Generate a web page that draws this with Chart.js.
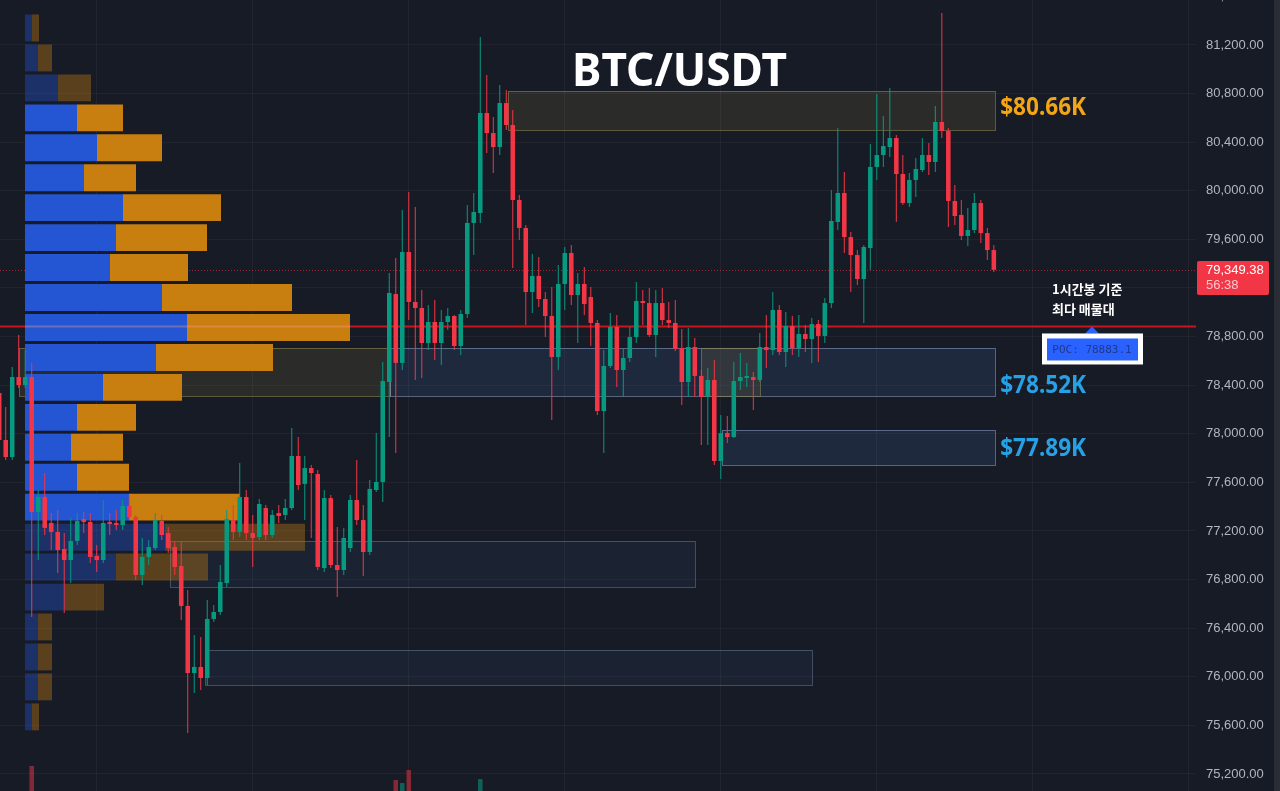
<!DOCTYPE html>
<html><head><meta charset="utf-8">
<script src="https://cdn.jsdelivr.net/npm/chart.js@4.4.1/dist/chart.umd.min.js"></script>
<style>html,body{margin:0;padding:0;background:#171b26;overflow:hidden}canvas{display:block}</style>
</head><body><canvas id="c" width="1280" height="791"></canvas>
<script>
// ---- 1h candles (BTC/USDT) ----
const candleOpen = [78336,77949,77809,78467,78401,78467,77356,77480,77266,77192,
77052,76961,77118,77299,77274,76994,76961,77274,77266,77249,
77406,77315,76838,76986,77060,77282,77183,77068,76912,76583,
76031,76081,75990,76476,76533,76772,77290,77192,77480,77183,
77150,77389,77167,77348,77332,77389,77817,77587,77718,77669,
76895,77471,76920,76879,77060,77455,77290,77027,77537,77603,
78426,79150,78583,79496,79085,79035,78747,78920,78747,78920,
78969,78722,78986,79735,79817,80640,80475,80360,80722,80541,
79924,79694,79167,79299,79109,78969,78632,79233,79488,79142,
79233,79126,78912,78187,78558,78879,78525,78624,78796,79093,
79076,78813,79076,78936,78912,78706,78426,78714,78476,78303,
78443,77776,78006,77973,78434,78459,78467,78443,78714,78689,
79019,78673,78887,78706,78821,78780,78903,78805,79076,79743,
79982,79619,79471,79274,79529,80196,80294,80360,80434,80138,
79899,80089,80171,80294,80237,80566,80492,79916,79801,79628,
79677,79899,79652,79512];
const candleHigh = [78401,78220,78550,78813,78689,78583,77537,77677,77348,77373,
77183,77307,77348,77356,77348,77085,77455,77348,77373,77455,
77496,77332,77142,77126,77348,77332,77233,77109,77109,76714,
76344,76327,76632,76591,76920,77373,77414,77760,77537,77332,
77463,77414,77373,77414,77463,78048,77973,77817,77743,77702,
77537,77496,77233,77225,77496,77784,77414,77620,78006,78591,
79323,79447,79842,79990,79866,79183,79060,79101,79019,79035,
78978,79019,79883,79982,81265,80953,80607,80870,80829,80665,
79965,79718,79480,79455,79167,79208,79389,79537,79554,79323,
79373,79208,78936,78689,78994,78978,78706,78879,79249,79183,
79200,79183,79200,79085,79101,78862,78871,78788,78525,78541,
78607,78155,78146,78591,78665,78583,78508,78829,78978,79167,
79060,79002,78969,78978,78895,78953,78936,79117,80006,80517,
80154,79661,79512,79554,80385,80796,80615,80846,80459,80294,
80146,80270,80434,80393,80698,81463,80517,80047,79924,79858,
79982,79924,79694,79554];
const candleLow = [77825,77784,77784,78377,78377,76492,76961,77167,77043,76854,
76525,76772,77085,77183,76937,76862,76937,77167,77208,77208,
77290,76797,76755,76920,77043,77126,77019,76838,76467,75537,
75867,75891,75932,76451,76509,76739,77126,77150,77126,76904,
77126,77126,77142,77266,77290,77373,77537,77290,77142,76879,
76862,76895,76657,76838,77027,77249,76830,77002,77521,77439,
77973,77842,78525,78936,78443,78459,78689,78607,78566,78854,
78689,78648,78953,79471,79735,80311,80146,80294,80500,79364,
79595,78895,78994,79043,78796,78113,78525,79019,79060,78747,
78978,78722,78155,77842,78541,78385,78303,78591,78747,78895,
78796,78632,78895,78871,78681,78237,78303,78303,77908,77908,
77743,77628,77924,77965,78360,78385,78196,78426,78541,78648,
78648,78550,78648,78632,78673,78583,78591,78747,79035,79677,
79488,79167,79224,78912,79348,80089,80196,80278,79743,79883,
79866,79949,80154,80130,80154,80434,79702,79718,79595,79545,
79652,79570,79430,79331];
const candleClose = [77949,77809,78467,78401,78467,77356,77480,77225,77192,77043,
76961,77118,77282,77274,76986,76961,77266,77257,77249,77406,
77315,76838,76986,77068,77290,77167,77060,76904,76583,76031,
76081,75990,76476,76533,76780,77299,77192,77480,77183,77142,
77422,77167,77332,77323,77389,77817,77578,77718,77677,76904,
77471,76920,76879,77142,77455,77290,77027,77546,77603,78434,
79159,78583,79496,79085,79035,78747,78920,78747,78920,78969,
78722,78986,79735,79825,80640,80475,80360,80722,80541,79924,
79694,79167,79299,79109,78969,78632,79233,79488,79142,79233,
79068,78912,78187,78558,78879,78525,78624,78796,79093,79076,
78813,79076,78936,78912,78698,78426,78714,78476,78303,78443,
77776,78006,77973,78434,78467,78476,78443,78714,78689,79019,
78673,78887,78706,78821,78780,78903,78805,79076,79751,79982,
79619,79471,79274,79537,80196,80294,80368,80434,80138,79899,
80089,80179,80294,80237,80566,80492,79916,79792,79628,79677,
79899,79652,79512,79349.38];

// volume bars whose tops reach into view
const volumeIdx   = [5, 61, 62, 63, 74];
const volumeValue = [3120, 2380, 2220, 2910, 2430];

// day boundaries (candle index) for vertical grid
const dayStartIdx = [15, 39, 63, 87, 111, 135, 159, 183];
// price axis labels
const priceTicks = [75200,75600,76000,76400,76800,77200,77600,78000,78400,78800,79200,79600,80000,80400,80800,81200,81600];

// ---- volume profile (row centre price, buy / sell volume) ----
const profilePrice = [81340,81093,80847,80600,80354,80107,79861,79614,79368,79121,78875,78628,
                      78382,78135,77889,77642,77396,77149,76903,76656,76410,76163,75917,75670];
const profileBuy   = [28,52,132,208,288,236,392,364,340,548,648,524,312,208,184,208,416,560,364,160,52,52,52,28];
const profileSell  = [28,56,132,184,260,208,392,364,312,520,652,468,316,236,208,208,444,560,368,156,56,56,56,28];
const valueAreaRows = [3, 16];

// ---- zones ----
const zoneStart  = [78.3, 3.05, 60.1, 108.0, 111.2, 26.3, 31.7];
const zoneEnd    = [153.2, 60.1, 153.2, 117.0, 153.2, 107.0, 125.0];
const zoneTop    = [80820, 78706, 78706, 78706, 78031, 77118, 76220];
const zoneBottom = [80500, 78311, 78311, 78311, 77743, 76739, 75932];
const zoneTone   = ['olive','olive','blue','olive','blue','slate','slate'];
const zoneLabelText  = ['$80.66K', '$78.52K', '$77.89K'];
const zoneLabelPrice = [80698, 78410, 77891];
const zoneLabelTone  = ['gold', 'blue', 'blue'];

const pocPrice = 78883.1;
const lastPrice = 79349.38;
const countdown = '56:38';
const titleText = 'BTC/USDT';
const noteLines = ['1시간봉 기준', '최다 매물대'];

// ---- styles ----
const BG = '#171b26';
const GRID = 'rgba(255,255,255,0.045)';
const UP = '#089981', DOWN = '#f23645';
const TONES = {
  olive: {fill: 'rgba(125,115,60,0.20)', stroke: 'rgba(150,140,80,0.55)'},
  blue:  {fill: 'rgba(70,110,180,0.17)', stroke: 'rgba(140,160,195,0.55)'},
  slate: {fill: 'rgba(70,110,160,0.10)', stroke: 'rgba(120,140,170,0.45)'}
};
const LABEL_COLORS = {gold: '#f2a516', blue: '#27a1e6'};

const idx = candleOpen.map((_, i) => i);
const candleColor = idx.map(i => candleClose[i] >= candleOpen[i] ? UP : DOWN);
const bodies = idx.map(i => ({x: i, y: [candleOpen[i], candleClose[i]]}));
const wicks = idx.map(i => ({x: i, y: [candleLow[i], candleHigh[i]]}));
const vols = volumeIdx.map((k, j) => ({x: k, y: volumeValue[j]}));
const volColors = volumeIdx.map(k => candleClose[k] >= candleOpen[k] ? 'rgba(8,153,129,0.55)' : 'rgba(242,54,69,0.5)');
const inVA = profilePrice.map((_, k) => k >= valueAreaRows[0] && k <= valueAreaRows[1]);
const buyBars = profilePrice.map((p, k) => ({y: p, x: [0, profileBuy[k]]}));
const sellBars = profilePrice.map((p, k) => ({y: p, x: [profileBuy[k], profileBuy[k] + profileSell[k]]}));
const buyColors = inVA.map(v => v ? '#2456d3' : 'rgba(36,86,211,0.38)');
const sellColors = inVA.map(v => v ? '#c97e10' : 'rgba(201,126,16,0.38)');

function fitText(ctx, text, x, y, font, color, targetW, align) {
  ctx.save();
  ctx.font = font; ctx.fillStyle = color; ctx.textBaseline = 'alphabetic';
  const w = ctx.measureText(text).width;
  const s = targetW ? targetW / w : 1;
  ctx.translate(x, y); ctx.scale(s, 1);
  ctx.textAlign = align || 'left';
  ctx.fillText(text, 0, 0);
  ctx.restore();
}

const overlay = {
  id: 'overlay',
  beforeDraw(chart) {
    const {ctx, width, height} = chart;
    ctx.save(); ctx.fillStyle = BG; ctx.fillRect(0, 0, width, height); ctx.restore();
  },
  beforeDatasetsDraw(chart) {
    const {ctx, chartArea: a, scales: {x, y}} = chart;
    ctx.save();
    ctx.beginPath(); ctx.rect(a.left, a.top, a.right - a.left, a.bottom - a.top); ctx.clip();
    zoneStart.forEach((s, k) => {
      const x1 = Math.round(x.getPixelForValue(s)), x2 = Math.round(x.getPixelForValue(zoneEnd[k]));
      const y1 = Math.round(y.getPixelForValue(zoneTop[k])), y2 = Math.round(y.getPixelForValue(zoneBottom[k]));
      const t = TONES[zoneTone[k]];
      ctx.fillStyle = t.fill; ctx.fillRect(x1, y1, x2 - x1, y2 - y1);
      ctx.strokeStyle = t.stroke; ctx.lineWidth = 1;
      ctx.strokeRect(x1 + 0.5, y1 + 0.5, x2 - x1, y2 - y1);
    });
    // last price dotted line
    const cy = Math.round(y.getPixelForValue(lastPrice)) + 0.5;
    ctx.setLineDash([1, 2]); ctx.strokeStyle = 'rgba(242,54,69,0.6)'; ctx.lineWidth = 1;
    ctx.beginPath(); ctx.moveTo(a.left, cy); ctx.lineTo(a.right, cy); ctx.stroke();
    ctx.setLineDash([]);
    // POC line
    const py = y.getPixelForValue(pocPrice);
    ctx.strokeStyle = '#c8161e'; ctx.lineWidth = 2;
    ctx.beginPath(); ctx.moveTo(a.left, py); ctx.lineTo(a.right, py); ctx.stroke();
    ctx.restore();
  },
  afterDatasetDraw(chart, args) {
    if (chart.data.datasets[args.index].label !== 'buy') return;
    const {ctx, scales: {xv, y}} = chart;
    const k = profilePrice.reduce((b, p, i) => Math.abs(p - pocPrice) < Math.abs(profilePrice[b] - pocPrice) ? i : b, 0);
    const py = y.getPixelForValue(pocPrice);
    ctx.save();
    ctx.strokeStyle = 'rgba(255,150,150,0.35)'; ctx.lineWidth = 2;
    ctx.beginPath(); ctx.moveTo(xv.getPixelForValue(0), py); ctx.lineTo(xv.getPixelForValue(profileBuy[k] + profileSell[k]), py); ctx.stroke();
    ctx.restore();
  },
  afterDatasetsDraw(chart) {
    const {ctx, scales: {x, y}} = chart;
    // title
    fitText(ctx, titleText, 679.5, 86, 'bold 46px "Noto Sans"', '#ffffff', 215, 'center');
    // zone labels
    const lx = x.getPixelForValue(153.2) + 5;
    zoneLabelText.forEach((t, k) => {
      const cy = y.getPixelForValue(zoneLabelPrice[k]);
      fitText(ctx, t, lx, cy + 9, 'bold 25px "Noto Sans"', LABEL_COLORS[zoneLabelTone[k]], 86, 'left');
    });
    // note text
    ctx.save();
    ctx.font = 'bold 13px "Noto Sans CJK KR"'; ctx.fillStyle = '#ffffff'; ctx.textBaseline = 'middle';
    ctx.fillText(noteLines[0], 1052, 289);
    ctx.fillText(noteLines[1], 1052, 309);
    // POC callout
    const py = y.getPixelForValue(pocPrice);
    const tx = 1092;
    ctx.fillStyle = '#2962ff';
    ctx.beginPath(); ctx.moveTo(tx, py); ctx.lineTo(tx - 7, py + 7); ctx.lineTo(tx + 7, py + 7); ctx.closePath(); ctx.fill();
    ctx.fillStyle = '#ffffff'; ctx.fillRect(1042, py + 7, 101, 31);
    ctx.fillStyle = '#2962ff'; ctx.fillRect(1047, py + 12, 91, 22);
    ctx.font = '11px "DejaVu Sans Mono"'; ctx.fillStyle = '#22388a'; ctx.textAlign = 'center';
    ctx.fillText('POC: ' + pocPrice, 1092, py + 23.5);
    ctx.restore();
  },
  afterDraw(chart) {
    const {ctx, chartArea: a, scales: {y}} = chart;
    const py = y.getPixelForValue(lastPrice);
    ctx.save();
    ctx.fillStyle = DOWN;
    ctx.beginPath(); ctx.roundRect(a.right + 1, Math.round(py) - 9, 72, 34, 2); ctx.fill();
    ctx.font = '13px "Liberation Sans"'; ctx.textBaseline = 'middle';
    ctx.fillStyle = '#ffffff';
    ctx.fillText(lastPrice.toLocaleString('en-US', {minimumFractionDigits: 2}), a.right + 10, py + 1);
    ctx.fillStyle = 'rgba(255,225,228,0.85)';
    ctx.fillText(countdown, a.right + 10, py + 16);
    ctx.fillStyle = '#2a2d35'; ctx.fillRect(chart.width - 6, 0, 6, chart.height);
    ctx.restore();
  }
};

new Chart(document.getElementById('c'), {
  type: 'bar',
  data: {
    datasets: [
      {label: 'body', data: bodies, backgroundColor: candleColor, grouped: false, categoryPercentage: 1, barPercentage: 0.7,
       minBarLength: 1, borderWidth: 0, order: 0, xAxisID: 'x', yAxisID: 'y'},
      {label: 'wick', data: wicks, backgroundColor: candleColor, grouped: false, categoryPercentage: 1, barPercentage: 0.5,
       maxBarThickness: 1, borderWidth: 0, order: 1, xAxisID: 'x', yAxisID: 'y'},
      {label: 'volume', data: vols, backgroundColor: volColors, grouped: false, categoryPercentage: 1, barPercentage: 0.7,
       borderWidth: 0, order: 2, xAxisID: 'x', yAxisID: 'yv'},
      {label: 'buy', indexAxis: 'y', data: buyBars, backgroundColor: buyColors, grouped: false,
       categoryPercentage: 1, barPercentage: 0.9, borderWidth: 0, order: 5, xAxisID: 'xv', yAxisID: 'yp'},
      {label: 'sell', indexAxis: 'y', data: sellBars, backgroundColor: sellColors, grouped: false,
       categoryPercentage: 1, barPercentage: 0.9, borderWidth: 0, order: 5, xAxisID: 'xv', yAxisID: 'yp'}
    ]
  },
  options: {
    responsive: false, animation: false, devicePixelRatio: 1,
    layout: {padding: 0},
    plugins: {legend: {display: false}, tooltip: {enabled: false}},
    scales: {
      x: {type: 'linear', min: 0.12, max: 184.1, offset: false,
          grid: {offset: false, color: GRID, drawTicks: false}, border: {display: false},
          ticks: {display: false},
          afterBuildTicks: s => { s.ticks = dayStartIdx.map(v => ({value: v})); },
          afterFit: s => { s.paddingLeft = 0; s.paddingRight = 0; }},
      y: {type: 'linear', position: 'right', min: 75060, max: 81570, offset: false,
          grid: {offset: false, color: GRID, drawTicks: false}, border: {display: false},
          ticks: {padding: 10, color: '#b2b5be',
                  font: {family: 'Liberation Sans', size: 13},
                  callback: v => Number(v).toLocaleString('en-US', {minimumFractionDigits: 2, maximumFractionDigits: 2})},
          afterBuildTicks: s => { s.ticks = priceTicks.map(v => ({value: v})); },
          afterFit: s => { s.width = 84; s.paddingTop = 0; s.paddingBottom = 0; }},
      yp: {type: 'linear', display: false, min: 75060, max: 81570, offset: false, grid: {offset: false}},
      xv: {type: 'linear', display: false, min: -100, max: 4684, offset: false, stacked: false, grid: {offset: false}},
      yv: {type: 'linear', display: false, min: 1800, max: 43600}
    }
  },
  plugins: [overlay]
});
</script>
</body></html>
